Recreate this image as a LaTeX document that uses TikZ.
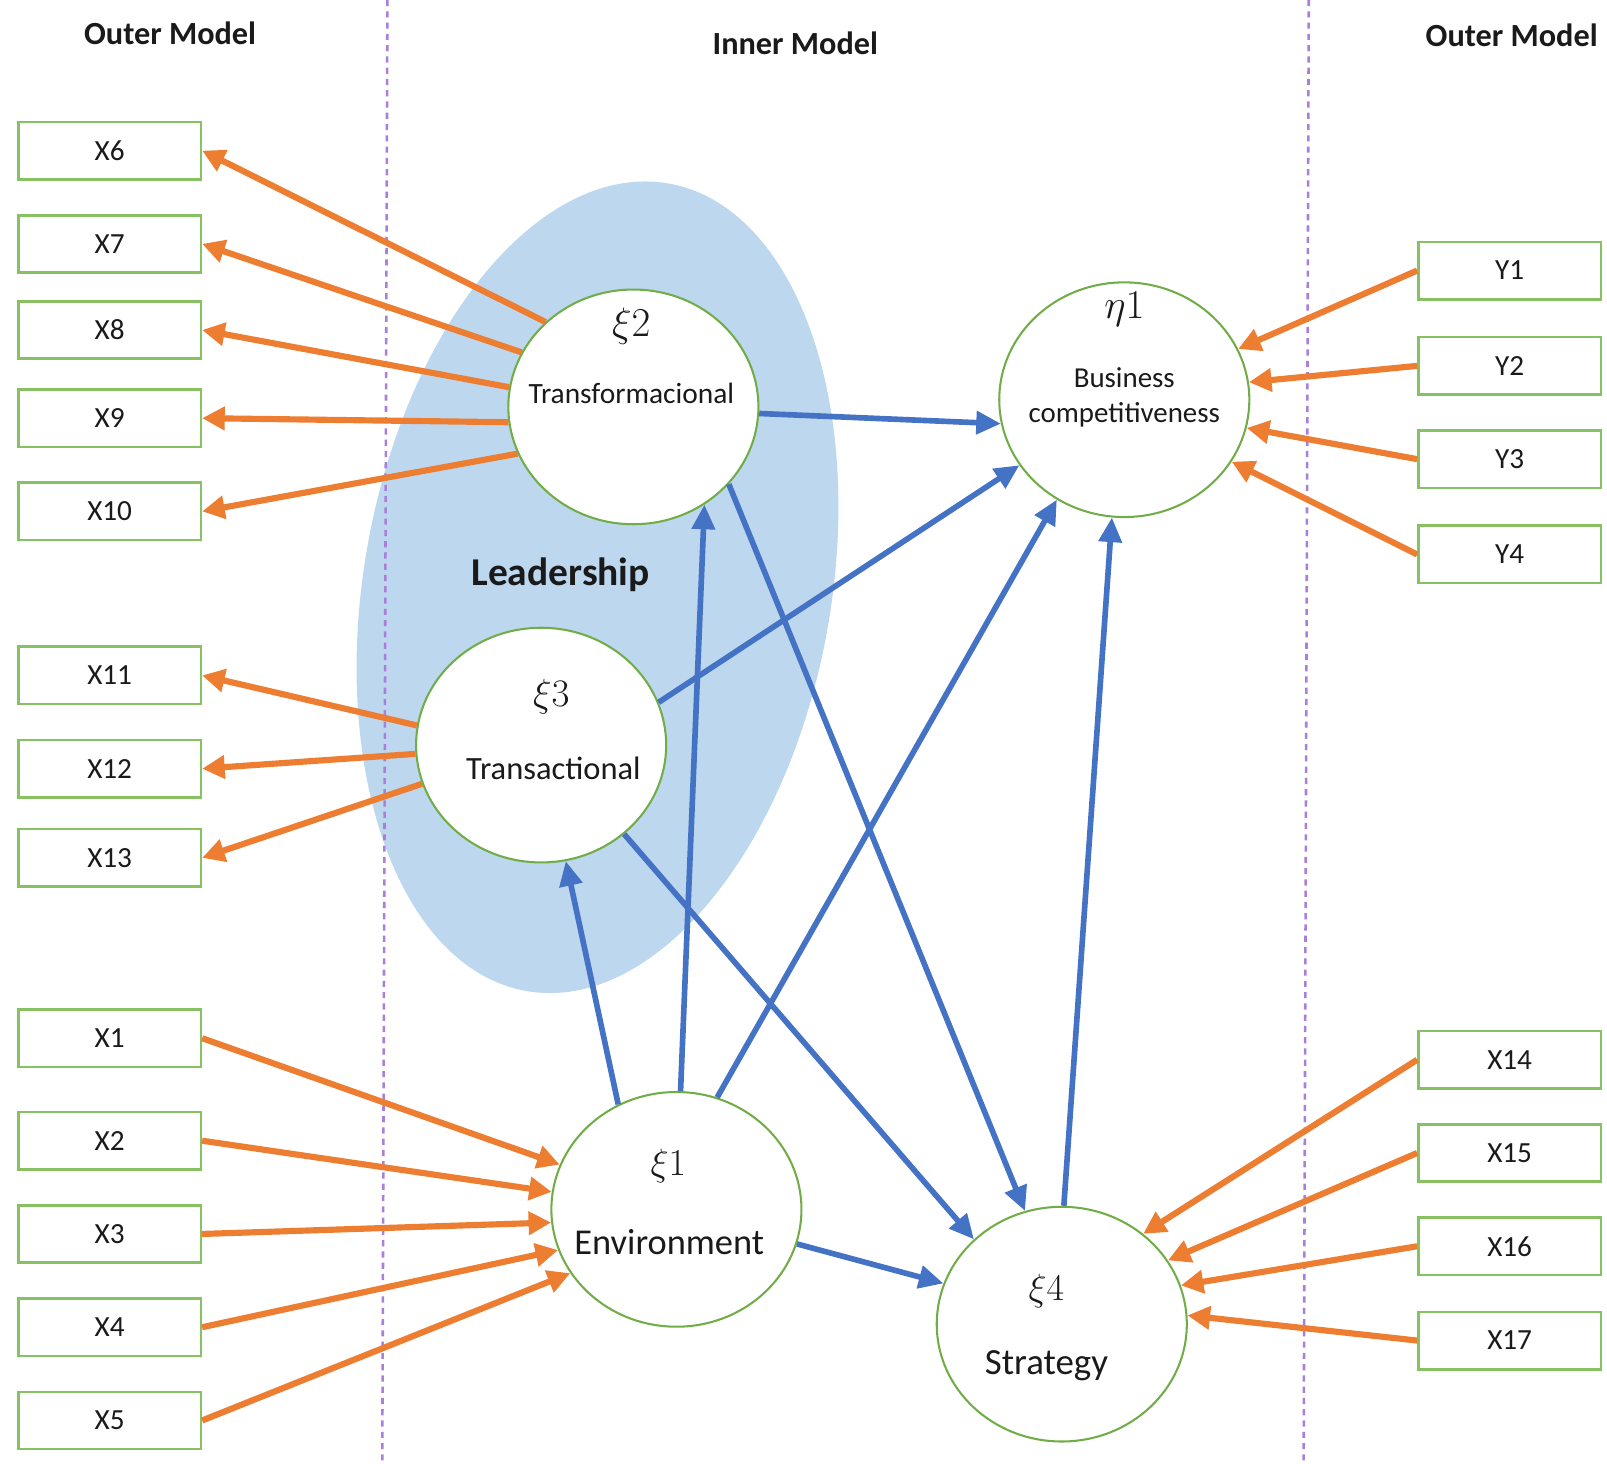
\RequirePackage{fix-cm}
\documentclass[tikz,border=0pt]{standalone}
\usepackage{fontspec}
\setmainfont{Carlito}
\usetikzlibrary{arrows.meta,shapes.geometric}
\definecolor{orng}{HTML}{ED7D31}
\definecolor{blu}{HTML}{4472C4}
\definecolor{grn}{HTML}{70AD47}
\definecolor{boxg}{HTML}{86C262}
\definecolor{lead}{HTML}{BDD7EE}
\definecolor{purp}{HTML}{A97FD9}
\definecolor{ink}{HTML}{1A1A1A}
\begin{document}
\begin{tikzpicture}[x=1pt,y=-1pt,
  box/.style={draw=boxg, line width=2.5pt, fill=white, minimum width=178pt, minimum height=56pt, inner sep=0pt, text=ink, font=\fontsize{28.5}{32}\selectfont},
  lat/.style={ellipse, draw=grn, line width=2pt, fill=white, minimum width=244pt, minimum height=229pt, inner sep=0pt},
  oarr/.style={draw=orng, line width=6pt, -{Triangle[length=22pt,width=22pt]}},
  barr/.style={draw=blu, line width=5.5pt, -{Triangle[length=24pt,width=22pt]}},
  ttl/.style={text=ink, font=\bfseries\fontsize{31.5}{34}\selectfont},
  lbl/.style={text=ink, inner sep=0pt},
  sep/.style={draw=purp, line width=2.5pt, dash pattern=on 6pt off 5pt}
]
\useasboundingbox (0,0) rectangle (1568,1428);
% leadership region
\fill[lead, rotate around={-10:(583,573)}] (583,573) ellipse [x radius=228, y radius=400];
% separators
\draw[sep] (378,0) -- (373,1428);
\draw[sep] (1277,0) -- (1272,1428);
% titles
\node[ttl] (t1) at (166,32) {Outer Model};
\node[ttl] (t2) at (776,42) {Inner Model};
\node[ttl] (t3) at (1475,34) {Outer Model};
\node[lbl, font=\bfseries\fontsize{38.5}{42}\selectfont] (lead) at (547,561) {Leadership};
% left boxes
\node[box] (X6) at (107,147) {X6};
\node[box] (X7) at (107,238) {X7};
\node[box] (X8) at (107,322) {X8};
\node[box] (X9) at (107,408) {X9};
\node[box] (X10) at (107,499) {X10};
\node[box] (X11) at (107,659) {X11};
\node[box] (X12) at (107,750) {X12};
\node[box] (X13) at (107,837) {X13};
\node[box] (X1) at (107,1013) {X1};
\node[box] (X2) at (107,1113) {X2};
\node[box] (X3) at (107,1204) {X3};
\node[box] (X4) at (107,1295) {X4};
\node[box] (X5) at (107,1386) {X5};
% right boxes
\node[box] (Y1) at (1473,264) {Y1};
\node[box] (Y2) at (1473,357) {Y2};
\node[box] (Y3) at (1473,448) {Y3};
\node[box] (Y4) at (1473,541) {Y4};
\node[box] (X14) at (1473,1034) {X14};
\node[box] (X15) at (1473,1125) {X15};
\node[box] (X16) at (1473,1216) {X16};
\node[box] (X17) at (1473,1308) {X17};
% latent variables
\node[lat] (xi2) at (618,397) {};
\node[lat] (eta) at (1097,390) {};
\node[lat] (xi3) at (528,727) {};
\node[lat] (xi1) at (660,1180) {};
\node[lat] (xi4) at (1036,1292) {};
% labels
\node[lbl, font=\fontsize{40}{44}\selectfont] (gxi2) at (616,318) {$\xi2$};
\node[lbl, font=\fontsize{28.7}{32}\selectfont] (nxi2) at (616,384) {Transformacional};
\node[lbl, font=\fontsize{40}{44}\selectfont] (geta) at (1097,302) {$\eta1$};
\node[lbl, font=\fontsize{28.2}{34}\selectfont, align=center] (neta) at (1097,388) {Business\\competitiveness};
\node[lbl, font=\fontsize{38}{42}\selectfont] (gxi3) at (538,680) {$\xi3$};
\node[lbl, font=\fontsize{31.7}{35}\selectfont] (nxi3) at (540,750) {Transactional};
\node[lbl, font=\fontsize{37}{42}\selectfont] (gxi1) at (652,1138) {$\xi1$};
\node[lbl, font=\fontsize{35.5}{40}\selectfont] (nxi1) at (653,1212) {Environment};
\node[lbl, font=\fontsize{37}{42}\selectfont] (gxi4) at (1021,1260) {$\xi4$};
\node[lbl, font=\fontsize{36}{40}\selectfont] (nxi4) at (1021,1333) {Strategy};
% outer loadings
\draw[oarr] (xi2.136) -- (X6.east);
\draw[oarr] (xi2.154) -- (X7.east);
\draw[oarr] (xi2.171) -- (X8.east);
\draw[oarr] (xi2.187) -- (X9.east);
\draw[oarr] (xi2.202) -- (X10.east);
\draw[oarr] (xi3.171) -- (X11.east);
\draw[oarr] (xi3.184) -- (X12.east);
\draw[oarr] (xi3.198) -- (X13.east);
\draw[oarr] (X1.east) -- (xi1.159);
\draw[oarr] (X2.east) -- (xi1.172);
\draw[oarr] (X3.east) -- (xi1.186);
\draw[oarr] (X4.east) -- (xi1.199);
\draw[oarr] (X5.east) -- (xi1.211);
\draw[oarr] (Y1.west) -- (eta.24);
\draw[oarr] (Y2.west) -- (eta.8);
\draw[oarr] (Y3.west) -- (eta.-13);
\draw[oarr] (Y4.west) -- (eta.-30);
\draw[oarr] (X14.west) -- (xi4.48);
\draw[oarr] (X15.west) -- (xi4.31);
\draw[oarr] (X16.west) -- (xi4.18);
\draw[oarr] (X17.west) -- (xi4.4);
% inner model
\draw[barr] (xi2.-3) -- (eta.191);
\draw[barr] (xi3.20) -- (eta.212);
\draw[barr] (xi1.70) -- (eta.236);
\draw[barr] (xi4.89) -- (eta.264);
\draw[barr] (xi1.88.5) -- (xi2.306);
\draw[barr] (xi1.119) -- (xi3.282);
\draw[barr] (xi2.321) -- (xi4.108);
\draw[barr] (xi3.313) -- (xi4.136);
\draw[barr] (xi1.344) -- (xi4.161);
\end{tikzpicture}
\end{document}
